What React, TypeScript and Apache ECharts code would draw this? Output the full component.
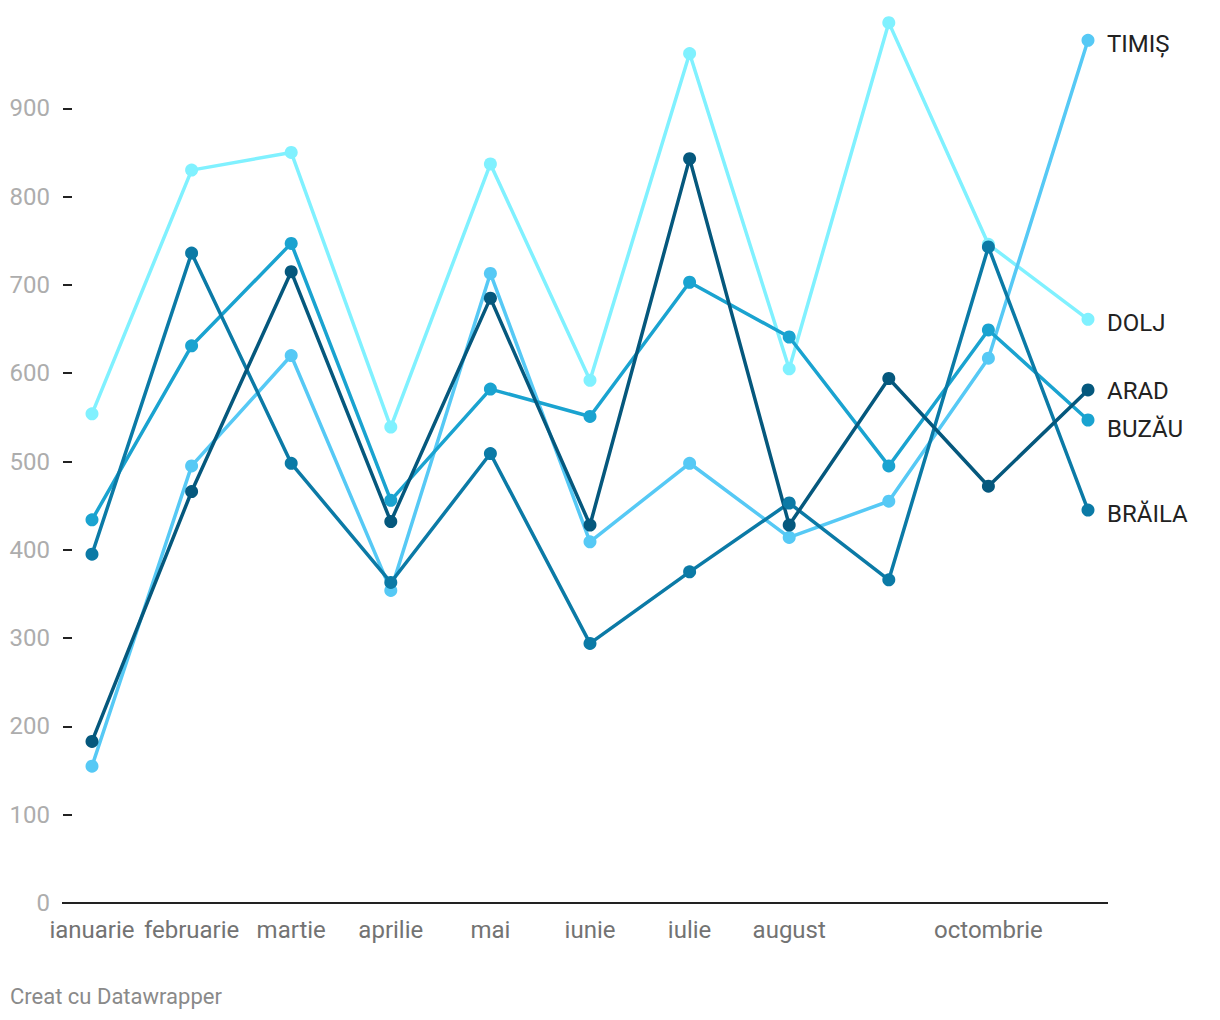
import React, { useEffect, useRef } from "react";
import * as echarts from "echarts";

const months = ["ianuarie", "februarie", "martie", "aprilie", "mai", "iunie", "iulie", "august", "septembrie", "octombrie", "noiembrie"];
const hiddenMonths = ["septembrie", "noiembrie"];
const yTicks = [0, 100, 200, 300, 400, 500, 600, 700, 800, 900];

const seriesNames = ["DOLJ", "TIMIȘ", "BUZĂU", "BRĂILA", "ARAD"];
const dolj = [554, 830, 850, 539, 837, 592, 962, 605, 997, 746, 661];
const timis = [155, 495, 620, 354, 713, 409, 498, 414, 455, 617, 977];
const buzau = [434, 631, 747, 456, 582, 551, 703, 641, 495, 649, 547];
const braila = [395, 736, 498, 363, 509, 294, 375, 453, 366, 743, 445];
const arad = [183, 466, 715, 432, 685, 428, 843, 428, 594, 472, 581];
const seriesData = [dolj, timis, buzau, braila, arad];
const colors = ["#80f1ff", "#56c9f5", "#1aa3d0", "#0b7aa6", "#05587d"];
const labelOffsets = [4, 4, 9, 4, 1];

export default function App() {
  const ref = useRef<HTMLDivElement>(null);
  useEffect(() => {
    if (!ref.current) return;
    const chart = echarts.init(ref.current, null, { renderer: "svg" });
    const font = "Roboto";
    chart.setOption({
      animation: false,
      textStyle: { fontFamily: font },
      grid: { left: 92, right: 132, top: 20, bottom: 117, containLabel: false },
      xAxis: {
        type: "category",
        data: months,
        boundaryGap: false,
        axisLine: { show: false },
        axisTick: { show: false },
        axisLabel: {
          interval: 0,
          margin: 15,
          color: "#737373",
          fontSize: 24,
          fontFamily: font,
          formatter: (v: string) => (hiddenMonths.includes(v) ? "" : v),
        },
        splitLine: { show: false },
      },
      yAxis: {
        type: "value",
        min: 0,
        max: 1000,
        interval: 100,
        offset: 20,
        axisLine: { show: false },
        axisTick: { show: true, length: 9, customValues: yTicks, lineStyle: { color: "#222", width: 2 } },
        axisLabel: { margin: 22, color: "#adadad", fontSize: 24, fontFamily: font, customValues: yTicks },
        splitLine: { show: false },
      },
      graphic: [
        { type: "line", shape: { x1: 62, y1: 903, x2: 1108, y2: 903 }, style: { stroke: "#222", lineWidth: 2 } },
        {
          type: "text",
          left: 10,
          top: 985,
          style: { text: "Creat cu Datawrapper", fill: "#8a8a8a", font: `22px ${font}` },
        },
      ],
      series: seriesNames.map((name, i) => ({
        name,
        type: "line",
        data: seriesData[i],
        symbol: "circle",
        symbolSize: 13,
        lineStyle: { color: colors[i], width: 3.5 },
        itemStyle: { color: colors[i] },
        endLabel: {
          show: true,
          formatter: name,
          color: "#222",
          fontSize: 24,
          fontFamily: font,
          distance: 19,
          offset: [0, labelOffsets[i]],
        },
      })),
    });
    return () => chart.dispose();
  }, []);
  return <div ref={ref} style={{ position: "absolute", left: 0, top: 0, width: 1220, height: 1020 }} />;
}
